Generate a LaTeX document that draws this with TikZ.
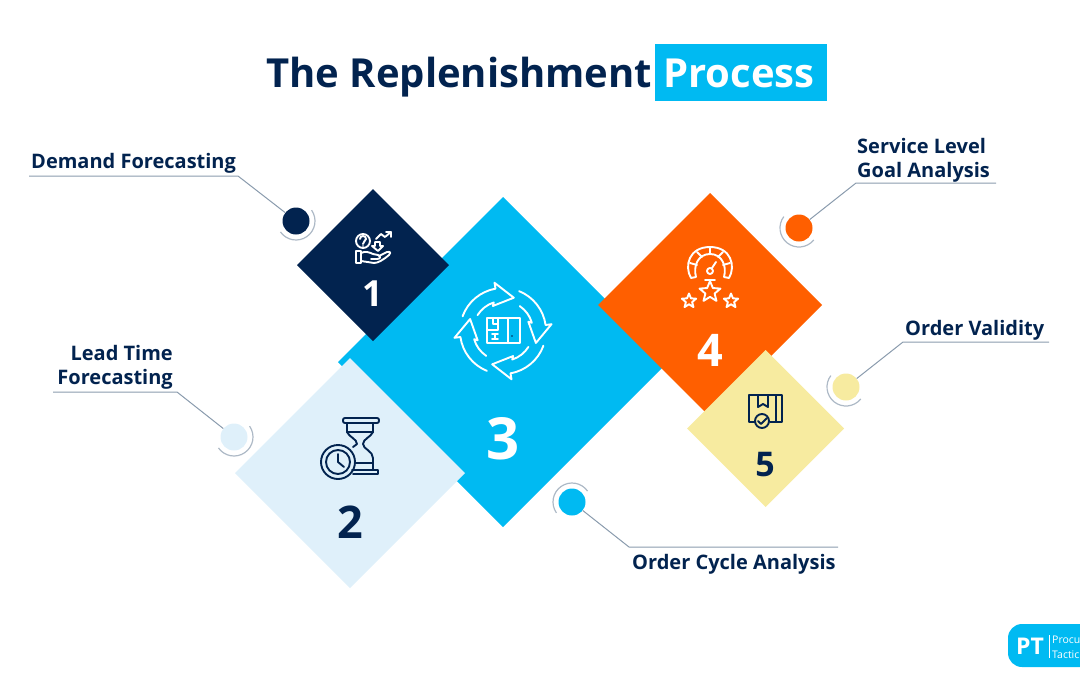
\documentclass[tikz,border=0pt]{standalone}
\usepackage{fontspec}
\setmainfont{Open Sans}
\definecolor{navy}{HTML}{02234F}
\definecolor{sky}{HTML}{00BAF2}
\definecolor{orng}{HTML}{FF5F00}
\definecolor{yell}{HTML}{F7EBA0}
\definecolor{pale}{HTML}{DFF0FA}
\definecolor{leader}{HTML}{8A9BAD}
\tikzset{
 gem/.style={fill=#1,draw=none},
 dot/.style={circle,fill=#1,draw=none,inner sep=0pt,minimum size=27pt},
 lab/.style={font=\bfseries\fontsize{20}{24}\selectfont,text=navy,inner sep=0pt},
 num/.style={font=\bfseries\fontsize{#1}{#1}\selectfont,inner sep=0pt,anchor=base},
 lead/.style={draw=leader,line width=1pt},
 ring/.style={draw=leader!70!white,line width=1.2pt},
 iconw/.style={draw=white,line width=1.9pt,line join=round,line cap=round},
 iconn/.style={draw=navy,line width=1.9pt,line join=round,line cap=round},
 titletext/.style={font=\bfseries\fontsize{40}{40}\selectfont,inner sep=0pt,anchor=base west},
 logotext/.style={font=\fontsize{10.5}{15}\selectfont,text=white,inner sep=0pt,anchor=base west,align=left},
}
\newcommand{\gempath}[4]{\fill[gem=#1] (#2,#3-#4) -- (#2+#4,#3) -- (#2,#3+#4) -- (#2-#4,#3) -- cycle;}
\newcommand{\starshape}[4]{% x y r style
 \draw[#4] (#1+0*#3,#2-1*#3) -- (#1+.26*#3,#2-.36*#3) -- (#1+.95*#3,#2-.31*#3) -- (#1+.42*#3,#2+.14*#3) -- (#1+.59*#3,#2+.81*#3) -- (#1,#2+.44*#3) -- (#1-.59*#3,#2+.81*#3) -- (#1-.42*#3,#2+.14*#3) -- (#1-.95*#3,#2-.31*#3) -- (#1-.26*#3,#2-.36*#3) -- cycle;}
\begin{document}
\begin{tikzpicture}[x=1pt,y=-1pt]
\useasboundingbox (0,0) rectangle (1080,675);
\clip (0,0) rectangle (1080,675);
% title
\fill[sky] (655,44) rectangle (827,101);
\node[titletext,text=navy] (t1) at (266,87) {The Replenishment};
\node[titletext,text=white] (t2) at (663,87) {Process};
% diamonds
\gempath{sky}{503}{362}{165}
\gempath{navy}{373}{265}{76}
\gempath{pale}{350}{473}{115}
\gempath{orng}{710}{305}{112}
\gempath{yell}{765.5}{428.5}{78.5}
% numbers
\node[num=36,text=white] (n1) at (373,306) {1};
\node[num=45,text=navy] (n2) at (350,538) {2};
\node[num=58,text=white] (n3) at (503,459) {3};
\node[num=45,text=white] (n4) at (710,366) {4};
\node[num=34,text=navy] (n5) at (765,476) {5};
% labels
\node[lab,anchor=base west] (l1) at (31,168) {Demand Forecasting};
\node[lab,anchor=base east,align=right] (l2) at (173,384) {Lead Time\\Forecasting};
\node[lab,anchor=base west] (l3) at (632,569) {Order Cycle Analysis};
\node[lab,anchor=base west,align=left] (l4) at (857,177) {Service Level\\Goal Analysis};
\node[lab,anchor=base west] (l5) at (905,335) {Order Validity};
% dots
\node[dot=navy] (d1) at (296,221) {};
\node[dot=pale] (d2) at (234,437) {};
\node[dot=sky] (d3) at (572,502) {};
\node[dot=orng] (d4) at (799,228) {};
\node[dot=yell] (d5) at (846,387) {};
% rings
\draw[ring] (296,221) ++(-35:19) arc[start angle=-35,end angle=145,radius=19];
\draw[ring] (234,437) ++(-35:19) arc[start angle=-35,end angle=145,radius=19];
\draw[ring] (572,502) ++(145:19) arc[start angle=145,end angle=325,radius=19];
\draw[ring] (799,228) ++(39:19) arc[start angle=39,end angle=217,radius=19];
\draw[ring] (846,387) ++(39:19) arc[start angle=39,end angle=217,radius=19];
% leaders
\coordinate (e1a) at (29,176); \coordinate (e1b) at (238,176);
\draw[lead] (e1a) -- (e1b) -- (d1);
\coordinate (e2a) at (53,392); \coordinate (e2b) at (177,392);
\draw[lead] (e2a) -- (e2b) -- (d2);
\coordinate (e3a) at (838,547); \coordinate (e3b) at (629,547);
\draw[lead] (e3a) -- (e3b) -- (d3);
\coordinate (e4a) at (996,183); \coordinate (e4b) at (856,183);
\draw[lead] (e4a) -- (e4b) -- (d4);
\coordinate (e5a) at (1049,342); \coordinate (e5b) at (903,342);
\draw[lead] (e5a) -- (e5b) -- (d5);
% icon 1
\begin{scope}[iconw]
\draw (363,241) circle[radius=7];
\draw (360,239) .. controls (360,235) and (366,235) .. (366,239) .. controls (366,241) and (363,241) .. (363,244);
\fill[white] (363,246) circle[radius=.8];
\draw (356,251) rectangle (361,263);
\draw (361,253) .. controls (365,251) and (369,252) .. (373,254) -- (378,255) .. controls (381,256) and (381,259) .. (377,259) -- (371,259);
\draw (379,256) -- (387,252) .. controls (391,251) and (391,254) .. (389,255) .. controls (383,260) and (378,263) .. (374,263) -- (361,261);
\draw (375,246) -- (375,242) -- (380,242) -- (380,246) -- (383,246) -- (378,251) -- (372,246) -- cycle;
\draw (376,239) -- (381,234) -- (385,237) -- (391,232);
\draw (386,232) -- (391,232) -- (391,237);
\end{scope}
% icon 3
\begin{scope}[shift={(503,331)},iconw]
\foreach \a in {-100,-8,80,172}{
 \draw (\a-60:43) arc[start angle=\a-60,end angle=\a,radius=43]
   -- (\a:49) -- (\a+28:35) -- (\a-12:27) -- (\a-8:30)
   arc[start angle=\a-8,end angle=\a-48,radius=30];
}
\draw (-16,-13) rectangle (17,12);
\draw (5,-13) -- (5,12);
\draw (-16,-1) -- (-5,-1) -- (-5,-13);
\draw (-10,-13) -- (-10,-7) -- (-5,-7);
\draw (-11,3) -- (-5,3) (-11,8) -- (-5,8) (-8,3) -- (-8,8);
\end{scope}
\fill[navy] (512,336) circle[radius=.9];
% icon 4
\begin{scope}[iconw]
\draw (691,278) .. controls (684,266) and (689,247) .. (710,247) .. controls (731,247) and (736,266) .. (729,278) -- (724,277) .. controls (727,266) and (722,254) .. (710,254) .. controls (698,254) and (693,266) .. (696,277) -- cycle;
\draw (690,263) -- (697,265) (697,252) -- (702,257) (710,247) -- (710,254) (723,252) -- (718,257) (730,263) -- (723,265);
\draw (710,271) circle[radius=3];
\draw (712,268) -- (716,262);
\draw (705,280) -- (715,280);
\end{scope}
\starshape{710}{292}{11}{iconw}
\starshape{689}{301}{7.5}{iconw}
\starshape{731}{301}{7.5}{iconw}
% icon 5
\begin{scope}[iconn]
\draw (755,422) -- (749,422) -- (749,395) -- (782,395) -- (782,422) -- (770,422);
\draw (758,395) -- (758,407) -- (763,404) -- (768,407) -- (768,395);
\draw (776,395) -- (776,422);
\draw (762,421) circle[radius=7];
\draw (758,421) -- (761,424) -- (767,418);
\end{scope}
% icon 2
\begin{scope}[iconn]
\draw[rounded corners=2pt] (343,418) rectangle (379,423);
\draw (347,423) -- (347,432) .. controls (349,437) and (357,439) .. (357,444) -- (353,447);
\draw (373,423) -- (373,432) .. controls (371,437) and (363,439) .. (363,444) .. controls (363,449) and (373,451) .. (373,458) -- (373,470);
\draw (347,432) -- (373,432);
\draw (355,463) -- (373,463);
\draw (352,470) -- (378,470) -- (378,474) -- (353,474);
\draw (338,462) circle[radius=17];
\draw (338,462) circle[radius=12];
\draw (338,454) -- (338,462) -- (344,467);
\end{scope}
% logo
\fill[sky,rounded corners=14pt] (1008,624) rectangle (1110,667);
\node[font=\bfseries\fontsize{23}{23}\selectfont,text=white,inner sep=0pt,anchor=base] (lg) at (1030,654) {PT};
\draw[white,line width=.6pt] (1049,635) -- (1049,658);
\node[logotext] (lg1) at (1052,658) {Procu\\Tactic};
\end{tikzpicture}
\end{document}
